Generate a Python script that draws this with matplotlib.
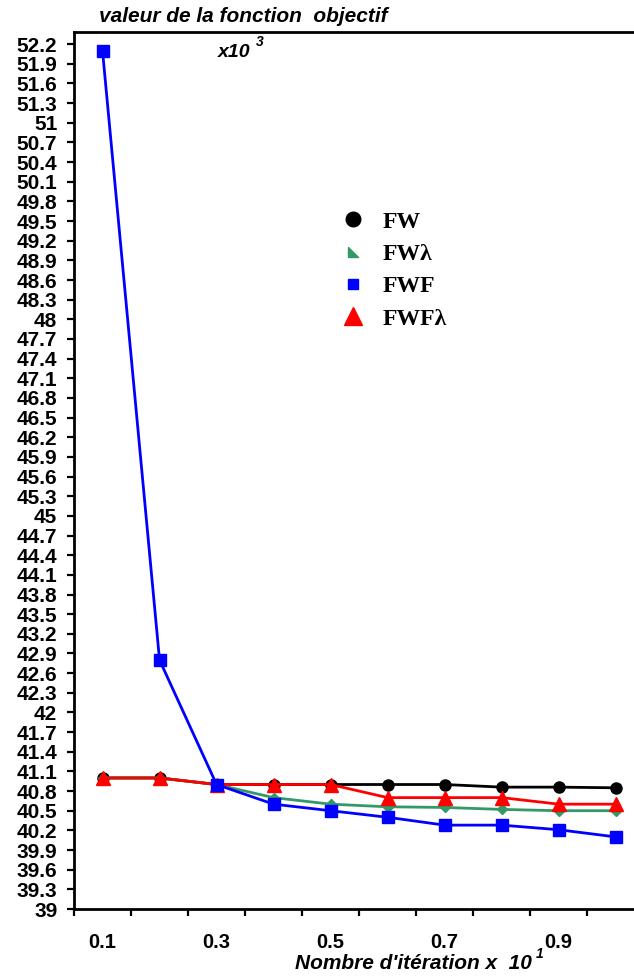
"""Objective function value vs. iteration count for FW / FWF variants."""

import matplotlib

matplotlib.use("Agg")

import matplotlib.pyplot as plt
import numpy as np
from matplotlib.lines import Line2D
from matplotlib.path import Path

# data (x10^3 on the y axis, x10^1 on the x axis)
iterations = [0.1, 0.2, 0.3, 0.4, 0.5, 0.6, 0.7, 0.8, 0.9, 1.0]
fw = [41.0, 41.0, 40.9, 40.9, 40.9, 40.9, 40.9, 40.86, 40.86, 40.85]
fw_lambda = [41.0, 41.0, 40.9, 40.7, 40.6, 40.56, 40.55, 40.52, 40.5, 40.5]
fwf = [52.1, 42.8, 40.9, 40.6, 40.5, 40.4, 40.28, 40.28, 40.21, 40.1]
fwf_lambda = [41.0, 41.0, 40.9, 40.9, 40.9, 40.7, 40.7, 40.7, 40.6, 40.6]

series_labels = ["FW", "FW\u03bb", "FWF", "FWF\u03bb"]
x_tick_labels = ["0.1", "0.3", "0.5", "0.7", "0.9"]
y_ticks = np.round(np.arange(39.0, 52.2 + 0.01, 0.3), 1)

W, H = 634, 976
GREEN = "#339966"

plt.rcParams["font.family"] = ["Liberation Sans", "DejaVu Sans"]

fig = plt.figure(figsize=(W / 100, H / 100), dpi=100)
ax = fig.add_axes([74 / W, (H - 909) / H, 1 - 74 / W, (909 - 31.7) / H])

line_kw = dict(linewidth=2.0)
ax.plot(iterations, fw, color="black", marker="o", markersize=8, zorder=3, **line_kw)
ax.plot(iterations, fw_lambda, color=GREEN, marker="D", markersize=5.5, zorder=4, **line_kw)
ax.plot(iterations, fwf_lambda, color="red", marker="^", markersize=10.5, zorder=5, **line_kw)
ax.plot(iterations, fwf, color="blue", marker="s", markersize=9, zorder=6, **line_kw)

ax.set_xlim(0.05, 1.032)
ax.set_ylim(39.0, 52.39)

# major ticks between points (unlabelled), labels under every other point
ax.set_xticks(np.arange(0.05, 1.0, 0.1))
ax.set_xticklabels([])
ax.set_xticks([float(t) for t in x_tick_labels], minor=True)
ax.set_xticklabels(x_tick_labels, minor=True)
ax.tick_params(axis="x", which="major", direction="out", length=5, width=1.6)
ax.tick_params(axis="x", which="minor", length=0, pad=17, labelsize=14.5)

ax.set_yticks(y_ticks)
ax.set_yticklabels([f"{v:g}" for v in y_ticks])
ax.tick_params(axis="y", direction="out", length=5, width=1.6, pad=7, labelsize=15)
for lab in ax.get_xticklabels(minor=True) + ax.get_yticklabels():
    lab.set_fontweight("bold")

for side in ("left", "bottom", "top"):
    ax.spines[side].set_linewidth(2.0)
ax.spines["right"].set_visible(False)


def px(x, y):
    return x / W, 1 - y / H


title_kw = dict(fontweight="bold", fontstyle="italic", color="black")
fig.text(*px(99, 22), "valeur de la fonction  objectif", fontsize=15, **title_kw)
fig.text(*px(218, 57), "x10", fontsize=14, **title_kw)
fig.text(*px(256, 46), "3", fontsize=10, **title_kw)
fig.text(*px(295, 969), "Nombre d'it\u00e9ration x  10", fontsize=15, **title_kw)
fig.text(*px(536, 958), "1", fontsize=10, **title_kw)

# legend: the FW\u03bb entry uses a right-angle triangle glyph
corner_tri = Path([(-1, 1), (-1, -1), (1, -1), (-1, 1)], closed=True)
handles = [
    Line2D([0], [0], linestyle="none", marker="o", markersize=10.5, color="black"),
    Line2D([0], [0], linestyle="none", marker=corner_tri, markersize=7, color=GREEN),
    Line2D([0], [0], linestyle="none", marker="s", markersize=7.5, color="blue"),
    Line2D([0], [0], linestyle="none", marker="^", markersize=13, color="red"),
]
fig.legend(
    handles,
    series_labels,
    loc="upper left",
    bbox_to_anchor=px(341, 211),
    frameon=False,
    borderpad=0,
    borderaxespad=0,
    handlelength=1.0,
    handletextpad=0.75,
    labelspacing=0.46,
    prop={"family": ["Liberation Serif", "DejaVu Serif"], "weight": "bold", "size": 17},
)

fig.savefig("out.png", dpi=100)
plt.close(fig)
